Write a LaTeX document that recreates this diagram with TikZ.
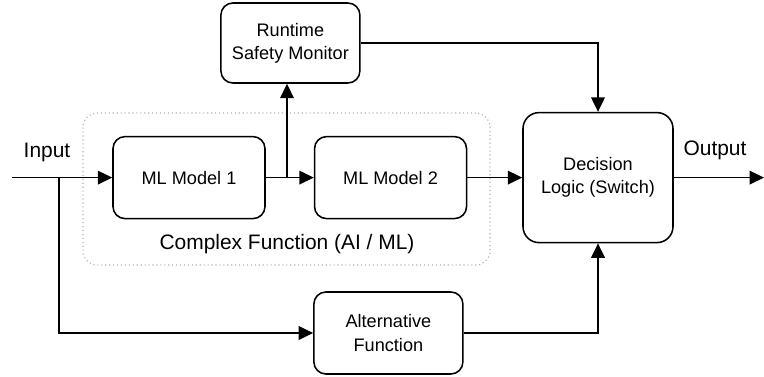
\documentclass[tikz,border=0pt]{standalone}
\usepackage{fontspec}
\setmainfont{Liberation Sans}
\usetikzlibrary{shapes, arrows.meta, positioning, calc}

\begin{document}
\begin{tikzpicture}[>={Triangle[length=0.36cm, width=0.34cm]},
        block/.style={rectangle, draw, line width=1.1pt, rounded corners=0.3cm, text centered, align=center,
            font=\fontsize{12.9}{16.5}\selectfont, minimum width=3.8cm, minimum height=2.05cm},
        wire/.style={line width=1.1pt},
        label/.style={font=\fontsize{14.9}{18}\selectfont},
        group/.style={draw=gray!60, dotted, line width=0.8pt, rounded corners=0.35cm},
        point/.style={coordinate}]
    \useasboundingbox (0,0) rectangle (19.1,9.4);

    \node (ml1) [block] at (4.725,4.96) {ML Model 1};
    \node (ml2) [block, right=1.2cm of ml1] {ML Model 2};
    \node (monitor) [block, minimum width=3.475cm, minimum height=2cm] at (7.26,8.325) {Runtime\\Safety Monitor};
    \node (decision) [block, minimum width=3.75cm, minimum height=3.25cm, rounded corners=0.4cm] at (14.95,4.96) {Decision\\Logic (Switch)};
    \node (alt) [block, minimum width=3.725cm] at (9.71,1.075) {Alternative\\Function};

    % Complex function group
    \node (complex) [group, minimum width=10.175cm, minimum height=3.8cm] at (7.1625,4.675) {};
    \node (complex_lbl) [label] at (7.175,3.3) {Complex Function (AI / ML)};

    % Input and output
    \node (in_start) [point] at (0.3,4.96) {};
    \node (in_split) [point] at (1.475,4.96) {};
    \node (in_lbl) [label] at (1.175,5.6) {Input};
    \node (out_end) [point] at (19.1,4.96) {};
    \node (out_lbl) [label] at (17.875,5.65) {Output};
    \node (ml_split) [point] at (7.175,4.96) {};

    % Main flow
    \draw [wire, ->] (in_start) -- (ml1.west);
    \draw [wire] (ml1.east) -- (ml_split);
    \draw [wire, ->] (ml_split) -- (ml2.west);
    \draw [wire, ->] (ml_split) -- (monitor.south -| ml_split);
    \draw [wire, ->] (ml2.east) -- (decision.west);
    \draw [wire, ->] (decision.east) -- (out_end);

    % Monitor and fallback paths
    \draw [wire, ->] (monitor.east) -| (decision.north);
    \draw [wire, ->] (in_split) |- (alt.west);
    \draw [wire, ->] (alt.east) -| (decision.south);

\end{tikzpicture}
\end{document}
